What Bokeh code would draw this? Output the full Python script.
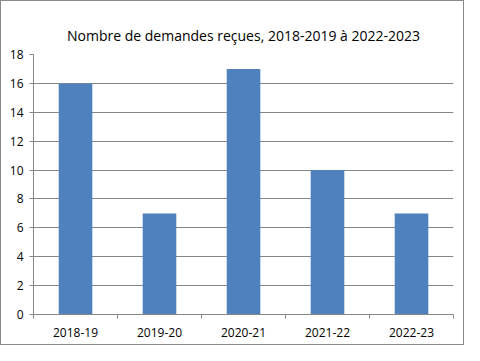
from bokeh.plotting import figure
from bokeh.models import FixedTicker, Range1d
from bokeh.embed import file_html
from bokeh.resources import INLINE

categories = ["2018-19", "2019-20", "2020-21", "2021-22", "2022-23"]
values = [16, 7, 17, 10, 7]
y_ticks = [0, 2, 4, 6, 8, 10, 12, 14, 16, 18]
title_text = "Nombre de demandes reçues, 2018-2019 à 2022-2023"

FONT = "Open Sans"
GRAY = "#868686"

n = len(categories)
xs = [i + 0.5 for i in range(n)]

p = figure(width=462, height=343, output_backend="svg", toolbar_location=None,
           x_range=Range1d(0, n), y_range=Range1d(0, 18),
           min_border_left=32, min_border_right=12, min_border_top=53, min_border_bottom=32)

p.title.text = title_text
p.title.align = "center"
p.title.text_font = FONT
p.title.text_font_size = "14px"
p.title.text_font_style = "normal"
p.title.text_color = "#000000"
p.title.standoff = 20

p.vbar(x=xs, top=values, width=0.4, fill_color="#4F81BD", line_color=None)

p.yaxis.ticker = FixedTicker(ticks=y_ticks)
p.yaxis.axis_line_color = GRAY
p.yaxis.major_tick_line_color = GRAY
p.yaxis.major_tick_out = 4
p.yaxis.major_tick_in = 0
p.yaxis.minor_tick_line_color = None
p.yaxis.major_label_text_font = FONT
p.yaxis.major_label_text_font_size = "12px"
p.yaxis.major_label_text_color = "#000000"
p.yaxis.major_label_standoff = 6

p.xaxis.ticker = FixedTicker(ticks=xs, minor_ticks=list(range(n + 1)))
p.xaxis.major_label_overrides = {x: c for x, c in zip(xs, categories)}
p.xaxis.major_tick_line_color = None
p.xaxis.minor_tick_line_color = GRAY
p.xaxis.minor_tick_out = 4
p.xaxis.minor_tick_in = 0
p.xaxis.axis_line_color = GRAY
p.xaxis.major_label_text_font = FONT
p.xaxis.major_label_text_font_size = "12px"
p.xaxis.major_label_text_color = "#000000"
p.xaxis.major_label_standoff = 7

p.xgrid.grid_line_color = None
p.ygrid.grid_line_color = GRAY
p.ygrid.ticker = FixedTicker(ticks=y_ticks)

p.outline_line_color = None
p.background_fill_color = "white"
p.border_fill_color = "white"
p.styles = {"border": "1px solid #898989", "box-sizing": "content-box"}

open("out.html", "w").write(file_html(p, INLINE))
